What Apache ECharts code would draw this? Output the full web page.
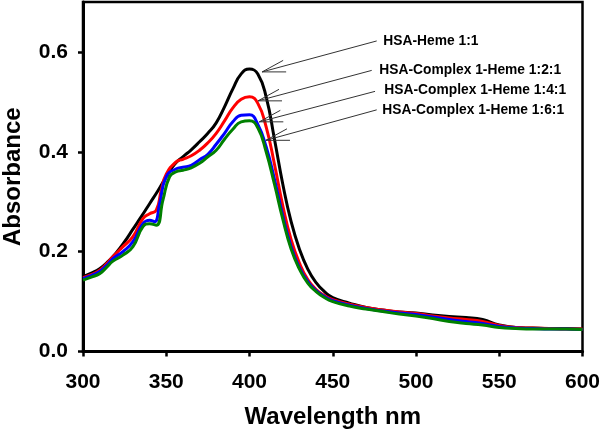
<!DOCTYPE html>
<html>
<head>
<meta charset="utf-8">
<script src="https://cdn.jsdelivr.net/npm/echarts@6/dist/echarts.min.js"></script>
<style>
  html, body { margin: 0; padding: 0; background: #fff; }
  #chart { width: 601px; height: 435px; }
</style>
</head>
<body>
<div id="chart"></div>
<script>
// spectra: [wavelength nm, absorbance]
const heme11 = [
  [300, 0.150], [305, 0.157], [310, 0.166], [315, 0.180], [320, 0.198], [325, 0.220],
  [330, 0.245], [335, 0.270], [340, 0.296], [345, 0.322], [350, 0.350], [355, 0.375],
  [360, 0.390], [365, 0.404], [370, 0.420], [375, 0.437], [380, 0.458], [385, 0.490],
  [390, 0.526], [395, 0.556], [400, 0.566], [405, 0.556], [410, 0.510], [415, 0.425],
  [420, 0.335], [425, 0.260], [430, 0.205], [435, 0.165], [440, 0.138], [445, 0.120],
  [450, 0.108], [460, 0.097], [470, 0.088], [480, 0.083], [490, 0.079], [500, 0.077],
  [510, 0.073], [520, 0.070], [530, 0.068], [540, 0.064], [550, 0.053], [560, 0.048],
  [570, 0.047], [580, 0.046], [590, 0.046], [600, 0.045]
]
const complex121 = [
  [300, 0.148], [305, 0.154], [310, 0.163], [314, 0.175], [318, 0.190], [324, 0.210],
  [330, 0.230], [336, 0.266], [340, 0.276], [344, 0.283], [347, 0.323], [350, 0.355],
  [356, 0.380], [360, 0.385], [365, 0.392], [370, 0.403], [375, 0.418], [380, 0.437],
  [385, 0.462], [390, 0.488], [395, 0.505], [400, 0.510], [405, 0.497], [410, 0.450],
  [415, 0.375], [420, 0.292], [425, 0.224], [430, 0.177], [435, 0.144], [440, 0.124],
  [445, 0.112], [450, 0.104], [460, 0.095], [470, 0.088], [480, 0.083], [490, 0.079],
  [500, 0.076], [510, 0.071], [520, 0.067], [530, 0.064], [540, 0.060], [550, 0.052],
  [560, 0.048], [570, 0.047], [580, 0.046], [590, 0.045], [600, 0.045]
]
const complex141 = [
  [300, 0.146], [305, 0.152], [310, 0.160], [314, 0.172], [318, 0.186], [324, 0.200],
  [330, 0.220], [336, 0.256], [340, 0.263], [343, 0.260], [346, 0.296], [350, 0.350],
  [356, 0.366], [360, 0.369], [365, 0.373], [370, 0.384], [375, 0.395], [380, 0.415],
  [385, 0.437], [390, 0.460], [395, 0.473], [400, 0.474], [405, 0.455], [410, 0.410],
  [415, 0.345], [420, 0.272], [425, 0.210], [430, 0.168], [435, 0.140], [440, 0.122],
  [445, 0.110], [450, 0.102], [460, 0.093], [470, 0.086], [480, 0.081], [490, 0.077],
  [500, 0.074], [510, 0.069], [520, 0.064], [530, 0.060], [540, 0.056], [550, 0.050],
  [560, 0.047], [570, 0.046], [580, 0.045], [590, 0.045], [600, 0.044]
]
const complex161 = [
  [300, 0.143], [305, 0.149], [310, 0.156], [314, 0.168], [318, 0.181], [324, 0.193],
  [330, 0.210], [336, 0.250], [340, 0.256], [344, 0.253], [348, 0.303], [352, 0.350],
  [356, 0.360], [360, 0.363], [365, 0.368], [370, 0.377], [375, 0.390], [380, 0.403],
  [385, 0.425], [390, 0.445], [395, 0.460], [400, 0.462], [405, 0.448], [410, 0.400],
  [415, 0.335], [420, 0.265], [425, 0.205], [430, 0.165], [435, 0.137], [440, 0.120],
  [445, 0.108], [450, 0.100], [460, 0.091], [470, 0.085], [480, 0.080], [490, 0.075],
  [500, 0.071], [510, 0.066], [520, 0.060], [530, 0.056], [540, 0.053], [550, 0.048],
  [560, 0.046], [570, 0.045], [580, 0.045], [590, 0.045], [600, 0.044]
]

const seriesNames = ['HSA-Heme 1:1', 'HSA-Complex 1-Heme 1:2:1', 'HSA-Complex 1-Heme 1:4:1', 'HSA-Complex 1-Heme 1:6:1']
const seriesData = [heme11, complex121, complex141, complex161]
const colors = ['#000000', '#ff0000', '#0000ff', '#008000']

// callouts in data space: where the pointer starts, where it hits the curve, where the text sits
const arrowTails = [[476.4, 0.622], [473.4, 0.563], [475.4, 0.521], [476.4, 0.484]]
const arrowTips = [[407.6, 0.560], [405.1, 0.502], [405.9, 0.460], [409.9, 0.423]]
const labelAnchors = [[480.4, 0.622], [478.0, 0.564], [481.0, 0.523], [479.8, 0.483]]

const yTicks = [0, 0.2, 0.4, 0.6]
const font = 'Liberation Sans, Arial, sans-serif'

const chart = echarts.init(document.getElementById('chart'))

chart.setOption({
  backgroundColor: '#fff',
  animation: false,
  grid: {
    left: 83, right: 18.5, top: 2, bottom: 83.5,
    show: true, borderColor: '#000', borderWidth: 2.5,
    containLabel: false, outerBoundsMode: 'none'
  },
  xAxis: {
    type: 'value', min: 300, max: 600, interval: 50,
    name: 'Wavelength nm', nameLocation: 'middle', nameGap: 54,
    nameTextStyle: { fontFamily: font, fontWeight: 'bold', fontSize: 24, color: '#000' },
    axisLine: { lineStyle: { color: '#000', width: 3 } },
    axisTick: { inside: false, length: 5, lineStyle: { color: '#000', width: 2.5 } },
    axisLabel: { fontFamily: font, fontWeight: 'bold', fontSize: 21, color: '#000', margin: 20 },
    splitLine: { show: false }
  },
  yAxis: {
    type: 'value', min: 0, max: 0.7,
    name: 'Absorbance', nameLocation: 'middle', nameGap: 58, nameRotate: 90,
    nameTextStyle: { fontFamily: font, fontWeight: 'bold', fontSize: 24, color: '#000' },
    axisLine: { lineStyle: { color: '#000', width: 3 } },
    axisTick: { inside: false, length: 5, customValues: yTicks, lineStyle: { color: '#000', width: 2.5 } },
    axisLabel: {
      fontFamily: font, fontWeight: 'bold', fontSize: 21, color: '#000', margin: 15,
      customValues: yTicks, formatter: v => v.toFixed(1)
    },
    splitLine: { show: false }
  },
  series: seriesData.map((d, i) => ({
    name: seriesNames[i],
    type: 'line',
    data: d,
    smooth: 0.5,
    showSymbol: false,
    lineStyle: { color: colors[i], width: 3 },
    z: 2 + i
  }))
})

// callout arrows and labels, positioned through the grid's own scales
const px = p => chart.convertToPixel({ gridIndex: 0 }, p)
const graphics = []
arrowTips.forEach((tip, i) => {
  const t = px(tip)
  const s = px(arrowTails[i])
  const l = px(labelAnchors[i])
  graphics.push({
    type: 'polyline', z: 20,
    shape: { points: [s, t] },
    style: { stroke: '#333', lineWidth: 1, fill: null }
  })
  graphics.push({
    type: 'polyline', z: 20,
    shape: { points: [[t[0] + 21, t[1] - 11.5], t, [t[0] + 24, t[1]]] },
    style: { stroke: '#333', lineWidth: 1, fill: null }
  })
  graphics.push({
    type: 'text', z: 20, x: l[0], y: l[1],
    style: {
      text: seriesNames[i], fontFamily: font, fontWeight: 'bold', fontSize: 13.8,
      fill: '#000', verticalAlign: 'middle', align: 'left'
    }
  })
})
chart.setOption({ graphic: graphics })
</script>
</body>
</html>
